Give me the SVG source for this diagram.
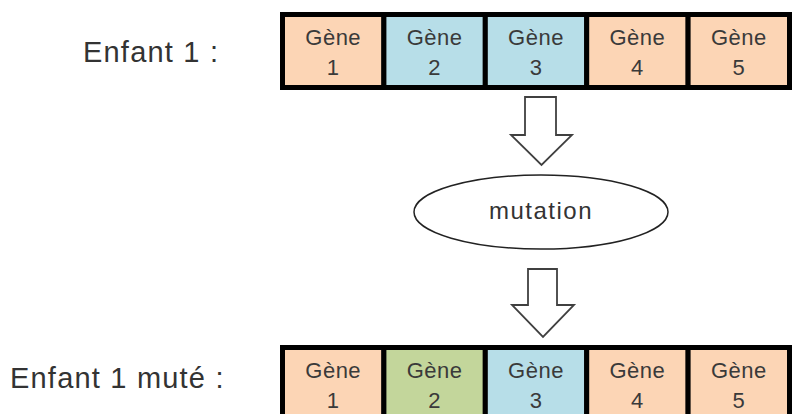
<svg xmlns="http://www.w3.org/2000/svg" width="795" height="414" viewBox="0 0 795 414">
<style>
.lbl{font-family:"Liberation Sans",Arial,sans-serif;font-size:29px;letter-spacing:1.2px;fill:#333}
.gt{font-family:"Liberation Sans",Arial,sans-serif;font-size:22px;letter-spacing:0.5px;fill:#3a3a3a;text-anchor:middle}
.mt{font-family:"Liberation Sans",Arial,sans-serif;font-size:24px;letter-spacing:1.5px;fill:#333;text-anchor:middle}
.cell{stroke:#000;stroke-width:5}
.o{fill:#FCD5B5}.b{fill:#B7DEE8}.g{fill:#C3D69B}
.arr{fill:#fff;stroke:#404040;stroke-width:1.8;stroke-linejoin:miter}
</style>
<rect width="795" height="414" fill="#fff"/>
<g id="label-enfant1"><text class="lbl" x="83" y="62">Enfant 1 :</text></g>
<g id="enfant1">
<rect class="cell o" x="282.5" y="14.5" width="101.4" height="73"/>
<rect class="cell b" x="383.9" y="14.5" width="101.4" height="73"/>
<rect class="cell b" x="485.3" y="14.5" width="101.4" height="73"/>
<rect class="cell o" x="586.7" y="14.5" width="101.4" height="73"/>
<rect class="cell o" x="688.1" y="14.5" width="101.4" height="73"/>
<text class="gt" x="333.2" y="45">Gène</text><text class="gt" x="333.2" y="75">1</text>
<text class="gt" x="434.6" y="45">Gène</text><text class="gt" x="434.6" y="75">2</text>
<text class="gt" x="536" y="45">Gène</text><text class="gt" x="536" y="75">3</text>
<text class="gt" x="637.4" y="45">Gène</text><text class="gt" x="637.4" y="75">4</text>
<text class="gt" x="738.8" y="45">Gène</text><text class="gt" x="738.8" y="75">5</text>
</g>
<g id="mutation">
<ellipse cx="541" cy="212" rx="127" ry="37" fill="#fff" stroke="#222" stroke-width="1.5"/>
<text class="mt" x="541" y="219">mutation</text>
</g>
<g id="connectors">
<polygon class="arr" points="525,97 556,97 556,135 572,135 541.5,165 511,135 525,135"/>
<polygon class="arr" points="528,269 557,269 557,305 574,305 543,337 512,305 528,305"/>
</g>
<g id="label-enfant1-mute"><text class="lbl" x="10" y="388">Enfant 1 muté :</text></g>
<g id="enfant1-mute">
<rect class="cell o" x="282.5" y="347.5" width="101.4" height="73"/>
<rect class="cell g" x="383.9" y="347.5" width="101.4" height="73"/>
<rect class="cell b" x="485.3" y="347.5" width="101.4" height="73"/>
<rect class="cell o" x="586.7" y="347.5" width="101.4" height="73"/>
<rect class="cell o" x="688.1" y="347.5" width="101.4" height="73"/>
<text class="gt" x="333.2" y="378">Gène</text><text class="gt" x="333.2" y="408">1</text>
<text class="gt" x="434.6" y="378">Gène</text><text class="gt" x="434.6" y="408">2</text>
<text class="gt" x="536" y="378">Gène</text><text class="gt" x="536" y="408">3</text>
<text class="gt" x="637.4" y="378">Gène</text><text class="gt" x="637.4" y="408">4</text>
<text class="gt" x="738.8" y="378">Gène</text><text class="gt" x="738.8" y="408">5</text>
</g>
</svg>
